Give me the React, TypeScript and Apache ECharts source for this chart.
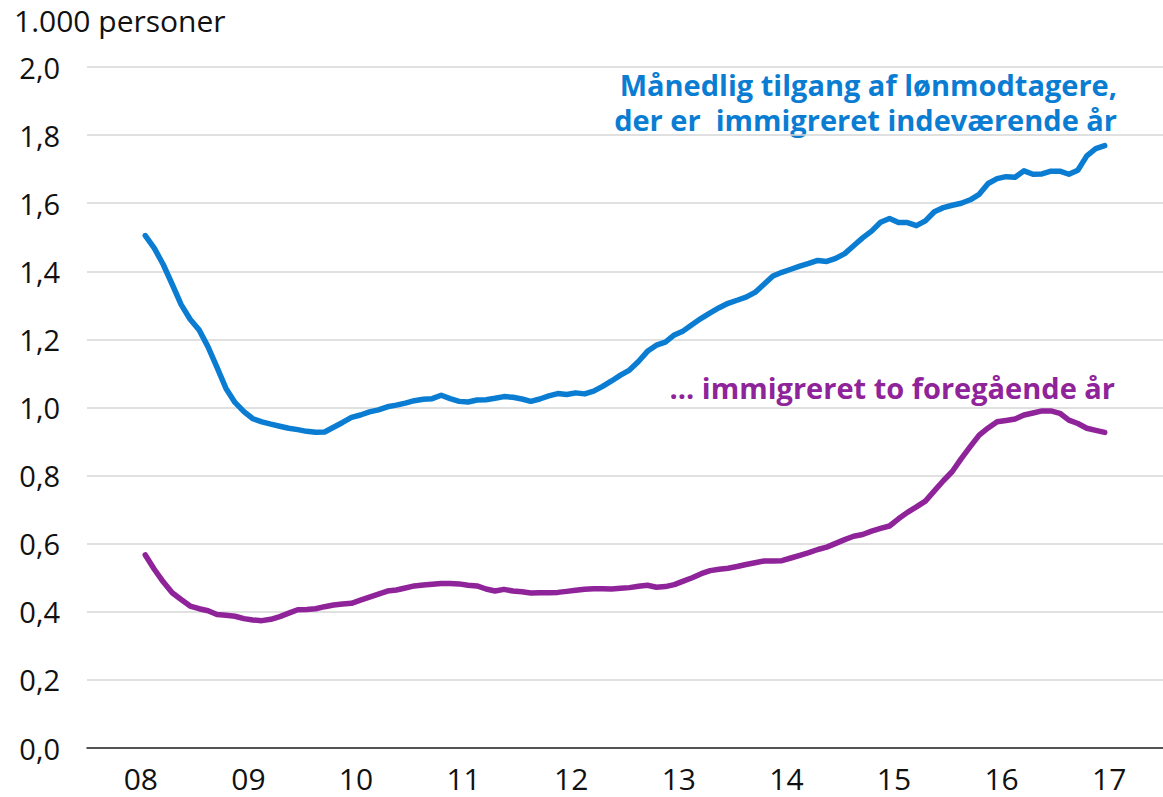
import React, { useEffect, useRef } from "react";
import * as echarts from "echarts";

const years = ["08", "09", "10", "11", "12", "13", "14", "15", "16", "17"];
const yTicks = [0, 0.2, 0.4, 0.6, 0.8, 1.0, 1.2, 1.4, 1.6, 1.8, 2.0];
const firstMonth = "2008-07";

const currentYear = [
  1.505, 1.468, 1.42, 1.362, 1.302, 1.259, 1.228, 1.178, 1.118, 1.056, 1.015, 0.988,
  0.967, 0.958, 0.951, 0.945, 0.939, 0.935, 0.93, 0.927, 0.928, 0.942, 0.956, 0.971,
  0.978, 0.987, 0.993, 1.002, 1.007, 1.013, 1.02, 1.024, 1.026, 1.036, 1.026, 1.018,
  1.016, 1.022, 1.023, 1.027, 1.032, 1.03, 1.025, 1.018, 1.025, 1.034, 1.041, 1.038,
  1.043, 1.04, 1.048, 1.062, 1.078, 1.095, 1.11, 1.135, 1.165, 1.183, 1.192, 1.213,
  1.225, 1.244, 1.262, 1.278, 1.293, 1.306, 1.315, 1.324, 1.338, 1.362, 1.386, 1.397,
  1.406, 1.415, 1.423, 1.432, 1.429, 1.438, 1.452, 1.475, 1.498, 1.518, 1.544, 1.555,
  1.543, 1.543, 1.534, 1.548, 1.575, 1.587, 1.594, 1.6, 1.61, 1.626, 1.658, 1.672,
  1.678, 1.676, 1.695, 1.685, 1.686, 1.694, 1.694, 1.685, 1.697, 1.739, 1.76, 1.769,
];

const twoYearsPrior = [
  0.567, 0.525, 0.488, 0.456, 0.436, 0.417, 0.409, 0.403, 0.392, 0.39, 0.387, 0.38,
  0.376, 0.374, 0.378, 0.386, 0.396, 0.406, 0.407, 0.409, 0.415, 0.42, 0.423, 0.425,
  0.434, 0.443, 0.452, 0.461, 0.464, 0.47, 0.476, 0.479, 0.481, 0.483, 0.483, 0.482,
  0.478, 0.476, 0.467, 0.461, 0.466, 0.461, 0.459, 0.455, 0.456, 0.456, 0.457, 0.46,
  0.463, 0.466, 0.468, 0.468, 0.467, 0.469, 0.471, 0.475, 0.478, 0.472, 0.474, 0.48,
  0.49, 0.5, 0.512, 0.521, 0.525, 0.528, 0.533, 0.539, 0.544, 0.549, 0.549, 0.55,
  0.558, 0.566, 0.574, 0.583, 0.59, 0.601, 0.612, 0.622, 0.627, 0.637, 0.645, 0.652,
  0.673, 0.692, 0.708, 0.725, 0.755, 0.785, 0.812, 0.85, 0.885, 0.919, 0.94, 0.958,
  0.962, 0.966, 0.978, 0.984, 0.99, 0.99, 0.983, 0.963, 0.953, 0.939, 0.933, 0.927,
];

const BLUE = "#0A7DD3";
const PURPLE = "#8F2399";
const FONT = "'Open Sans', 'Noto Sans', sans-serif";

function monthLabels(start: string, n: number): string[] {
  const [y0, m0] = start.split("-").map(Number);
  const out: string[] = [];
  for (let i = 0; i < n; i++) {
    const t = y0 * 12 + (m0 - 1) + i;
    const y = Math.floor(t / 12);
    const m = (t % 12) + 1;
    out.push(`${y}-${String(m).padStart(2, "0")}`);
  }
  return out;
}

const months = monthLabels(firstMonth, currentYear.length);

function monthPos(label: string): number {
  const [y, m] = label.split("-").map(Number);
  return (y - 2000 - Number(years[0])) * 12 + (m - 1) + 0.5;
}

export default function App() {
  const ref = useRef<HTMLDivElement>(null);
  useEffect(() => {
    document.body.style.margin = "0";
    if (!ref.current) return;
    const chart = echarts.init(ref.current, undefined, { renderer: "svg" });
    chart.setOption({
      animation: false,
      backgroundColor: "#ffffff",
      grid: { left: 87, top: 67, width: 1083, height: 681, containLabel: false },
      xAxis: [
        {
          type: "category",
          data: years,
          boundaryGap: true,
          axisLine: { lineStyle: { color: "#262626", width: 1.5 } },
          axisTick: { inside: true, length: 9, lineStyle: { color: "#262626", width: 1.5 } },
          axisLabel: { fontSize: 30, color: "#111", margin: 15, fontFamily: FONT },
          splitLine: { show: false },
        },
        { type: "value", min: 0, max: years.length * 12, show: false },
      ],
      yAxis: {
        type: "value",
        min: yTicks[0],
        max: yTicks[yTicks.length - 1],
        interval: 0.2,
        axisLine: { show: false },
        axisTick: { show: false },
        axisLabel: {
          fontSize: 29,
          color: "#111",
          margin: 27,
          fontFamily: FONT,
          formatter: (v: number) => v.toFixed(1).replace(".", ","),
        },
        splitLine: { lineStyle: { color: "#d6d6d6", width: 1.5 } },
      },
      series: [
        {
          name: "Månedlig tilgang af lønmodtagere, der er immigreret indeværende år",
          type: "line",
          xAxisIndex: 1,
          data: months.map((m, i) => [monthPos(m), currentYear[i]]),
          showSymbol: false,
          lineStyle: { color: BLUE, width: 5.5, cap: "round", join: "round" },
          z: 3,
        },
        {
          name: "... immigreret to foregående år",
          type: "line",
          xAxisIndex: 1,
          data: months.map((m, i) => [monthPos(m), twoYearsPrior[i]]),
          showSymbol: false,
          lineStyle: { color: PURPLE, width: 5.5, cap: "round", join: "round" },
          z: 3,
        },
      ],
      graphic: [
        {
          type: "text",
          x: 14,
          y: 20,
          style: {
            text: "1.000 personer",
            fontSize: 30,
            fill: "#111",
            fontFamily: FONT,
            verticalAlign: "middle",
          },
        },
        {
          type: "text",
          x: 1117,
          y: 101.5,
          style: {
            text: "Månedlig tilgang af lønmodtagere,\nder er  immigreret indeværende år",
            fontSize: 29,
            lineHeight: 35,
            fontWeight: "bold",
            fill: BLUE,
            fontFamily: FONT,
            align: "right",
            verticalAlign: "middle",
          },
        },
        {
          type: "text",
          x: 1115,
          y: 387,
          style: {
            text: "... immigreret to foregående år",
            fontSize: 29,
            fontWeight: "bold",
            fill: PURPLE,
            fontFamily: FONT,
            align: "right",
            verticalAlign: "middle",
          },
        },
      ],
    });
    return () => chart.dispose();
  }, []);
  return <div ref={ref} style={{ width: 1163, height: 797 }} />;
}
